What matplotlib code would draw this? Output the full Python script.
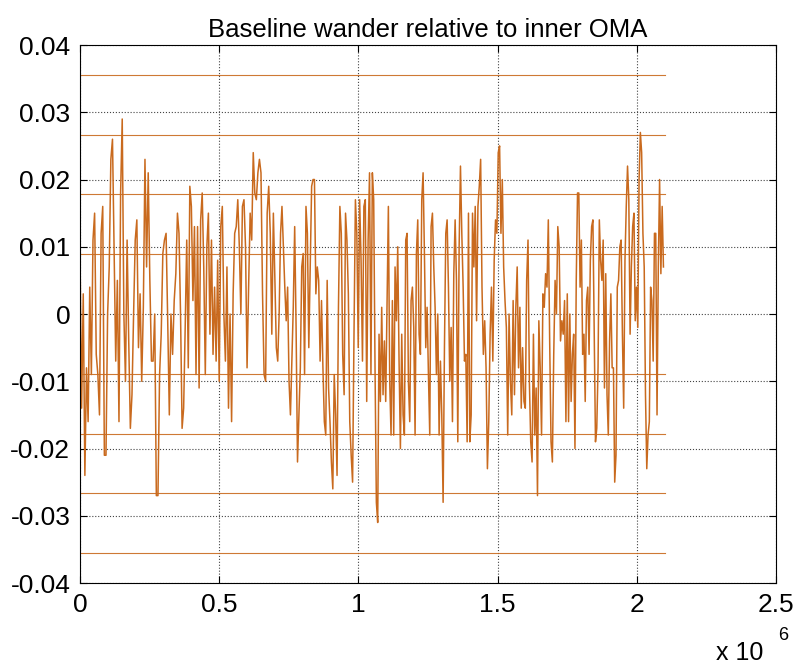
import numpy as np
import matplotlib
matplotlib.use("Agg")
import matplotlib.pyplot as plt

plt.rcParams['font.family'] = ['Liberation Sans', 'DejaVu Sans']

# Baseline wander samples (x1e-3), read per sixth of the record
seg1 = [9, -14, 3, -24, -8, -16, 4, -9, 11, 15, -6, -9, -15, 12, 16, -21, -21, 0, 7, 23,
        26, 10, -7, 5, -16, 18, 29, 0, -10, 11, -4, -17, -12, 0, 11, 14, -5, 3, -10, 1,
        23, 7, 21, 5, -7, -7, 0, -27, -27, -9, -3, 9, 11, 12, -1, -15, 0, -6, 2, 6]
seg2 = [15, 12, 0, -17, -14, -2, 11, -8, 19, 16, 2, 13, -9, 13, -11, 14, 18, 7, -9, 10,
        15, -3, 11, -6, 4, -7, 8, -10, 13, 16, 0, -7, 7, -14, 0, -16, 3, 12, 13, 17,
        10, 0, 16, 17, 10, -8, 4, 15, 11, 24, 18, 17, 21, 23, 21, 3, -9, -10, 15, 19,
        12, -3, 15]
seg3 = [5, -5, -7, 0, 12, 16, 10, 4, -1, 4, -10, -15, -7, 1, 13, -2, -22, -15, -8, 7,
        9, -9, 16, 12, -5, 7, 19, 20, 20, 3, 7, 5, -7, 2, -8, -16, -18, 5, -11, -16,
        -22, -26, -9, -15, -24, 1, 16, 12, -6, -12, 15, 11, 3, -16, -21, -25, -3, 17, 12, -5,
        17, 8, -7, 16, 17, -13, 11, 21, -9]
seg4 = [21, 17, -8, -28, -31, -3, -13, 1, -12, -4, -13, 1, 16, -10, -18, 2, -18, 7, -1, 10,
        -7, -20, -3, -15, -18, 11, 12, -10, -16, 2, 4, -2, -18, 9, 14, -3, -6, 17, 21, 9,
        -5, 1, -9, -18, 13, 15, 7, 1, -9, 0, -18, -7, -15, -28, -5, 12, 14, 4, -10, -2,
        -16, 6, 14, 5, -19, 10, 22, 12, 4, -7, -6, -19, 15]
seg5 = [-19, -15, 15, 7, 16, -1, 16, 19, 23, 4, -6, -1, -8, -23, -16, -3, 4, -7, 8, 14,
        12, 24, 25, 12, 20, 7, 2, -2, -18, 0, -10, -15, 2, -12, 1, 7, -8, 1, -14, -5,
        -13, -14, 5, 11, -10, -19, -22, -3, -18, -11, -27, -1, -8, -18, 3, 1, 6, 4, 14, -4,
        -19, -22, -6, 5, 0, 13, 10, -4, -1, -3, 2, -16]
seg6 = [3, -16, 0, -13, -6, -3, -20, 5, 18, 18, 4, 11, -6, -3, -13, 2, 4, -6, 8, 13,
        14, -2, -19, -17, -8, 14, 8, 5, 11, -11, 6, -12, -18, -4, 3, -8, -8, -25, -21, 4,
        5, 10, 11, -3, -14, 8, 16, 22, 17, -3, 7, 13, 15, -1, 4, -2, 20, 27, 24, 12,
        7, -12, -23, -18, -16, 4, 2, -7, 12, 12, -15, 7, 20, 6, 16, 7]
segments = [seg1, seg2, seg3, seg4, seg5, seg6]
record_length = 2.1e6

# threshold levels
levels = [0.0089, 0.0178, 0.0266, 0.0355]

xticks = [0, 0.5e6, 1.0e6, 1.5e6, 2.0e6, 2.5e6]
xticklabels = ['0', '0.5', '1', '1.5', '2', '2.5']
yticks = [-0.04, -0.03, -0.02, -0.01, 0, 0.01, 0.02, 0.03, 0.04]
yticklabels = ['-0.04', '-0.03', '-0.02', '-0.01', '0', '0.01', '0.02', '0.03', '0.04']

color = '#C96A1E'

fig = plt.figure(figsize=(7.96, 6.67), dpi=100)
ax = fig.add_axes([0.1005, 0.1259, 0.8745, 0.8066])

bounds = np.linspace(0, record_length, len(segments) + 1)
xs, ys = [], []
for i, s in enumerate(segments):
    xs.append(np.linspace(bounds[i], bounds[i + 1], len(s), endpoint=False))
    ys.append(np.array(s) * 1e-3)
x = np.concatenate(xs)
y = np.concatenate(ys)

for lv in levels:
    ax.plot([0, record_length], [lv, lv], color=color, lw=0.8, alpha=0.9)
    ax.plot([0, record_length], [-lv, -lv], color=color, lw=0.8, alpha=0.9)
ax.plot(x, y, color=color, lw=1.1)

ax.set_xlim(0, 2.5e6)
ax.set_ylim(-0.04, 0.04)
ax.set_xticks(xticks)
ax.set_xticklabels(xticklabels)
ax.set_yticks(yticks)
ax.set_yticklabels(yticklabels)
ax.grid(True, linestyle=':', color='#444444', lw=0.8)
ax.tick_params(direction='in', top=True, right=True, length=5, labelsize=19, pad=7)
for sp in ax.spines.values():
    sp.set_linewidth(0.8)
ax.set_title('Baseline wander relative to inner OMA', fontsize=18.5, pad=6)
fig.text(0.900, 0.003, 'x 10', fontsize=18, ha='left', va='bottom')
fig.text(0.977, 0.035, '6', fontsize=13, ha='left', va='bottom')

fig.savefig('out.png', dpi=100)
